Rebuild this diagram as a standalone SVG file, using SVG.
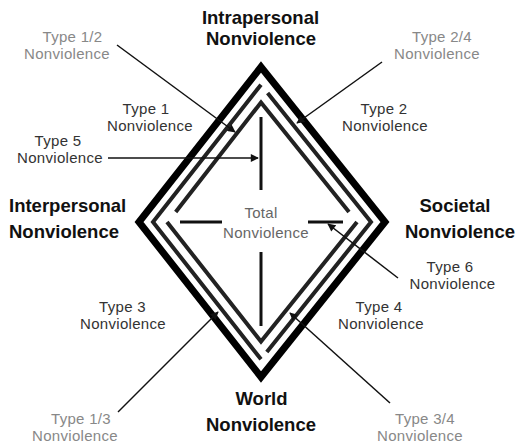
<svg xmlns="http://www.w3.org/2000/svg" width="517" height="445" viewBox="0 0 517 445">
<defs>
<marker id="ah" viewBox="0 0 10 10" refX="9" refY="5" markerWidth="9" markerHeight="8" markerUnits="userSpaceOnUse" orient="auto">
<path d="M0,0 L10,5 L0,10 z" fill="#111"/>
</marker>
<style>
.bold{font-family:"Liberation Sans",Arial,sans-serif;font-weight:bold;font-size:18.5px;fill:#111;text-anchor:middle}
.reg{font-family:"Liberation Sans",Arial,sans-serif;font-size:15px;fill:#333;text-anchor:middle;letter-spacing:0.3px}
.lt{fill:#888}
.mid{fill:#666}
.outer{fill:none;stroke:#000;stroke-width:7;stroke-linejoin:miter}
.inner{fill:none;stroke:#222;stroke-width:4;stroke-linejoin:miter}
.axis{fill:none;stroke:#111;stroke-width:3}
.arr{fill:none;stroke:#111;stroke-width:1.5;marker-end:url(#ah)}
</style>
</defs>
<rect width="517" height="445" fill="#fff"/>
<g id="frame">
<path class="outer" d="M261,67 L385,222 L261,377 L139,222 Z"/>
<path class="inner" d="M261,84.7 L153,222 L261,359.3"/>
<path class="inner" d="M267.6,93 L371,222 L266.8,352"/>
<path class="inner" d="M167,222 L261,341.6 L357,222"/>
<path class="inner" d="M175.7,212 L261,102.4 L349,212"/>
</g>
<g id="axes">
<line class="axis" x1="261" y1="117" x2="261" y2="190"/>
<line class="axis" x1="261" y1="252" x2="261" y2="326"/>
<line class="axis" x1="180" y1="222" x2="222" y2="222"/>
<line class="axis" x1="308" y1="222" x2="343" y2="222"/>
</g>
<g id="connectors">
<line class="arr" x1="117" y1="45" x2="235" y2="132"/>
<line class="arr" x1="108" y1="158" x2="258" y2="158"/>
<line class="arr" x1="382" y1="62" x2="297" y2="123"/>
<line class="arr" x1="398" y1="278" x2="328" y2="224"/>
<line class="arr" x1="118" y1="412" x2="218" y2="312"/>
<line class="arr" x1="390" y1="403" x2="290" y2="313"/>
</g>
<g id="intrapersonal"><text class="bold" x="260.5" y="24">Intrapersonal</text><text class="bold" x="261" y="45">Nonviolence</text></g>
<g id="interpersonal"><text class="bold" x="9" y="212" style="text-anchor:start">Interpersonal</text><text class="bold" x="9" y="238" style="text-anchor:start">Nonviolence</text></g>
<g id="societal"><text class="bold" x="455" y="212">Societal</text><text class="bold" x="460" y="238">Nonviolence</text></g>
<g id="world"><text class="bold" x="261.5" y="405">World</text><text class="bold" x="261" y="431">Nonviolence</text></g>
<g id="total"><text class="reg mid" x="261" y="218">Total</text><text class="reg mid" x="266" y="238">Nonviolence</text></g>
<g id="type12"><text class="reg lt" x="72.5" y="42">Type 1/2</text><text class="reg lt" x="67" y="59">Nonviolence</text></g>
<g id="type1"><text class="reg" x="146" y="114">Type 1</text><text class="reg" x="150" y="131">Nonviolence</text></g>
<g id="type5"><text class="reg" x="58" y="146">Type 5</text><text class="reg" x="60" y="163">Nonviolence</text></g>
<g id="type24"><text class="reg lt" x="442" y="42">Type 2/4</text><text class="reg lt" x="437" y="59">Nonviolence</text></g>
<g id="type2"><text class="reg" x="384" y="114">Type 2</text><text class="reg" x="385" y="131">Nonviolence</text></g>
<g id="type6"><text class="reg" x="450" y="272">Type 6</text><text class="reg" x="452.5" y="289">Nonviolence</text></g>
<g id="type3"><text class="reg" x="122.5" y="312">Type 3</text><text class="reg" x="123" y="329">Nonviolence</text></g>
<g id="type4"><text class="reg" x="379" y="312">Type 4</text><text class="reg" x="381" y="329">Nonviolence</text></g>
<g id="type13"><text class="reg lt" x="81" y="424">Type 1/3</text><text class="reg lt" x="75" y="441">Nonviolence</text></g>
<g id="type34"><text class="reg lt" x="425" y="424">Type 3/4</text><text class="reg lt" x="420" y="441">Nonviolence</text></g>
</svg>
